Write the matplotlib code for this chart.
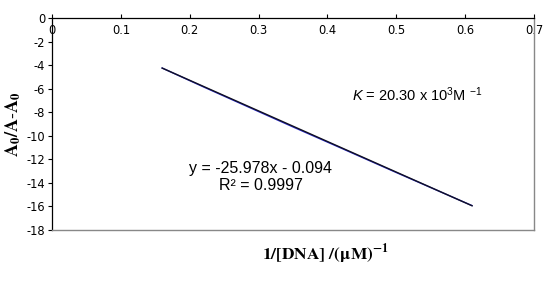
import matplotlib
matplotlib.use("Agg")
import matplotlib.pyplot as plt
import numpy as np

plt.rcParams["mathtext.fontset"] = "custom"
plt.rcParams["mathtext.rm"] = "Liberation Sans"
plt.rcParams["mathtext.it"] = "Liberation Sans:italic"
plt.rcParams["mathtext.bf"] = "Liberation Sans:bold"

# data
x_data = [0.16, 0.22, 0.28, 0.35, 0.42, 0.50, 0.61]
y_data = [-4.25, -5.85, -7.42, -9.25, -11.05, -13.12, -15.93]
slope = -25.978
intercept = -0.094
x_ticks = [0, 0.1, 0.2, 0.3, 0.4, 0.5, 0.6, 0.7]
y_ticks = [0, -2, -4, -6, -8, -10, -12, -14, -16, -18]

fig = plt.figure(figsize=(5.52, 2.82), dpi=100)
ax = fig.add_axes([52/552, 1-230/282, (534-52)/552, (230-18)/282])

ax.plot(x_data, y_data, color="#2a2ad0", lw=1.0, zorder=2)
xf = np.array([min(x_data), max(x_data)])
ax.plot(xf, slope*xf + intercept, color="#111122", lw=1.0, zorder=3)

ax.set_xlim(0, 0.7)
ax.set_ylim(-18, 0)
ax.set_xticks(x_ticks)
ax.set_xticklabels([f"{v:g}" for v in x_ticks])
ax.set_yticks(y_ticks)
ax.set_yticklabels([f"{v:g}" for v in y_ticks])

ax.xaxis.set_ticks_position("top")
ax.tick_params(axis="x", direction="out", length=3, pad=-17, labelsize=8.3, width=0.8)
ax.tick_params(axis="y", direction="out", length=3, pad=2, labelsize=8.3, width=0.8)
for lab in ax.get_xticklabels() + ax.get_yticklabels():
    lab.set_family("DejaVu Sans")

ax.spines["top"].set_color("black")
ax.spines["top"].set_linewidth(0.9)
ax.spines["top"].set_linestyle((0, (1.5, 1)))
ax.spines["left"].set_color("black")
ax.spines["left"].set_linewidth(0.9)
ax.spines["right"].set_color("#888888")
ax.spines["bottom"].set_color("#888888")
ax.spines["right"].set_linewidth(1.0)
ax.spines["bottom"].set_linewidth(1.0)

ax.text(0.3035, -12.75, "y = -25.978x - 0.094", fontsize=11.5, family="Liberation Sans",
        ha="center", va="center")
ax.text(0.3035, -14.2, "R² = 0.9997", fontsize=11.5, family="Liberation Sans",
        ha="center", va="center")
ax.text(0.531, -6.5, r"$\mathit{K}$ = 20.30 x 10$^3$M $^{-1}$", fontsize=10.5,
        family="Liberation Sans", ha="center", va="center")

fig.text(13/552, 1-124/282, r"$\mathbf{A_0/A\text{-}A_0}$", rotation=90, fontsize=13,
         ha="center", va="center", math_fontfamily="stix")
fig.text(326/552, 1-254/282, r"$\mathbf{1/[DNA]\ /(\mu M)^{-1}}$", fontsize=12.5,
         ha="center", va="center", math_fontfamily="stix")

fig.savefig("out.png", dpi=100)
